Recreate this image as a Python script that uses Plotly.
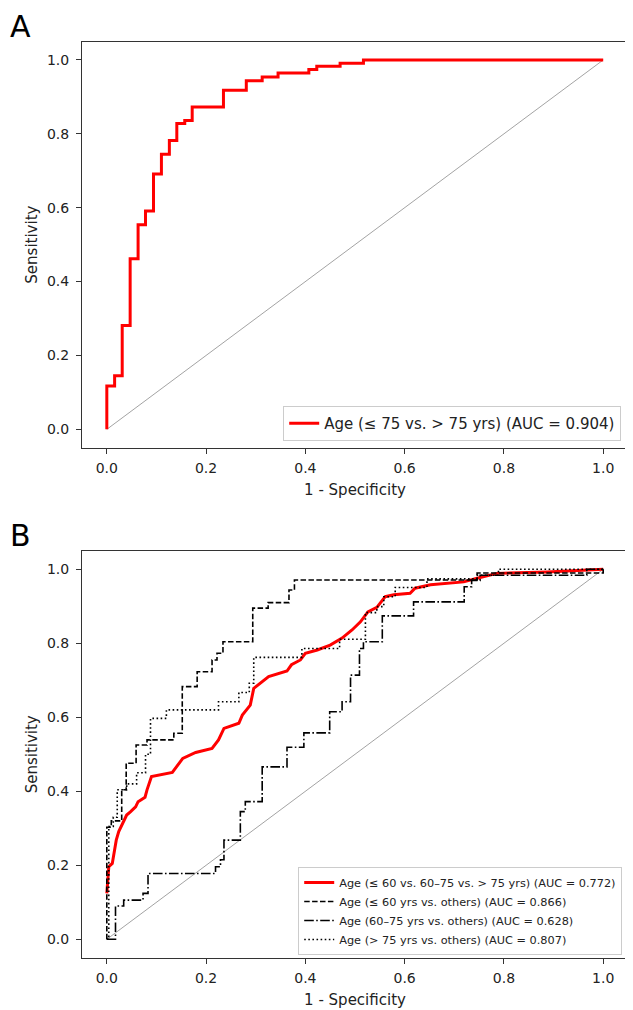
import plotly.graph_objects as go

# ---------------- Data ----------------
# Panel A: Age (<=75 vs >75)
fpr_a = [0, 0, 0.0157, 0.031, 0.047, 0.063, 0.078, 0.094, 0.110, 0.126, 0.141, 0.157,
         0.172, 0.235, 0.281, 0.313, 0.345, 0.407, 0.423, 0.470, 0.517, 1.0]
tpr_a = [0, 0.117, 0.145, 0.281, 0.462, 0.554, 0.591, 0.691, 0.745, 0.782, 0.828, 0.836,
         0.873, 0.918, 0.944, 0.954, 0.965, 0.974, 0.983, 0.991, 1.0, 1.0]

# Panel B: three-level age (smooth red curve)
fpr_b3 = [0, 0.004, 0.011, 0.014, 0.019, 0.024, 0.031, 0.040, 0.048, 0.058, 0.063, 0.077,
          0.081, 0.090, 0.132, 0.153, 0.179, 0.212, 0.225, 0.236, 0.266, 0.273, 0.289,
          0.296, 0.326, 0.350, 0.363, 0.372, 0.390, 0.400, 0.424, 0.450, 0.474, 0.494,
          0.511, 0.526, 0.544, 0.561, 0.578, 0.611, 0.621, 0.652, 0.719, 0.746, 0.786,
          0.887, 1.0]
tpr_b3 = [0.124, 0.196, 0.205, 0.232, 0.268, 0.291, 0.309, 0.336, 0.345, 0.358, 0.372, 0.384,
          0.404, 0.440, 0.451, 0.489, 0.505, 0.516, 0.539, 0.570, 0.584, 0.606, 0.633,
          0.678, 0.710, 0.719, 0.725, 0.742, 0.755, 0.773, 0.782, 0.795, 0.814, 0.836,
          0.858, 0.885, 0.897, 0.926, 0.931, 0.935, 0.949, 0.958, 0.966, 0.976, 0.989,
          0.993, 1.0]

# <=60 yrs vs others (dashed)
fpr_le60 = [0, 0, 0.009, 0.030, 0.039, 0.059, 0.081, 0.135, 0.152, 0.182, 0.212, 0.222,
            0.234, 0.294, 0.325, 0.367, 0.378, 0.746, 1.0]
tpr_le60 = [0, 0.303, 0.32, 0.404, 0.476, 0.525, 0.539, 0.557, 0.683, 0.723, 0.755, 0.773,
            0.804, 0.895, 0.910, 0.944, 0.971, 0.99, 1.0]

# 60-75 yrs vs others (dash-dot)
fpr_mid = [0, 0.0175, 0.034, 0.073, 0.083, 0.219, 0.229, 0.236, 0.269, 0.279, 0.313, 0.363,
           0.397, 0.449, 0.474, 0.491, 0.509, 0.517, 0.555, 0.618, 0.720, 0.735, 0.752,
           0.967, 1.0]
tpr_mid = [0, 0.090, 0.106, 0.124, 0.178, 0.196, 0.215, 0.268, 0.345, 0.372, 0.466, 0.519,
           0.558, 0.615, 0.642, 0.714, 0.786, 0.804, 0.874, 0.912, 0.953, 0.970, 0.984,
           1.0, 1.0]

# >75 yrs vs others (dotted)
fpr_gt75 = [0, 0.004, 0.013, 0.021, 0.040, 0.060, 0.078, 0.088, 0.120, 0.225, 0.266, 0.287,
            0.296, 0.393, 0.469, 0.521, 0.544, 0.558, 0.581, 0.645, 0.746, 0.789, 1.0]
tpr_gt75 = [0, 0.305, 0.33, 0.404, 0.42, 0.45, 0.50, 0.597, 0.62, 0.642, 0.667, 0.692,
            0.762, 0.786, 0.811, 0.883, 0.899, 0.926, 0.951, 0.974, 0.984, 1.0, 1.0]

diag = [0, 1]
ticks = [0.0, 0.2, 0.4, 0.6, 0.8, 1.0]
tick_labels = ["0.0", "0.2", "0.4", "0.6", "0.8", "1.0"]

name_a = "Age (≤ 75 vs. > 75 yrs) (AUC = 0.904)"
names_b = ["Age (≤ 60 vs. 60–75 vs. > 75 yrs) (AUC = 0.772)",
           "Age (≤ 60 yrs vs. others) (AUC = 0.866)",
           "Age (60–75 yrs vs. others) (AUC = 0.628)",
           "Age (> 75 yrs vs. others) (AUC = 0.807)"]

FONT = "DejaVu Sans"
OFF = 8                      # page body margin offset
W, H = 633 - OFF, 1010 - OFF

fig = go.Figure()

# Panel A
fig.add_trace(go.Scatter(x=diag, y=diag, mode="lines", line=dict(color="#8c8c8c", width=0.8),
                         showlegend=False, hoverinfo="skip", xaxis="x", yaxis="y"))
fig.add_trace(go.Scatter(x=fpr_a, y=tpr_a, mode="lines", name=name_a,
                         line=dict(color="red", width=3, shape="hv"),
                         xaxis="x", yaxis="y", legend="legend"))

# Panel B
fig.add_trace(go.Scatter(x=diag, y=diag, mode="lines", line=dict(color="#8c8c8c", width=0.8),
                         showlegend=False, hoverinfo="skip", xaxis="x2", yaxis="y2"))
fig.add_trace(go.Scatter(x=fpr_b3, y=tpr_b3, mode="lines", name=names_b[0],
                         line=dict(color="red", width=3),
                         xaxis="x2", yaxis="y2", legend="legend2"))
fig.add_trace(go.Scatter(x=fpr_le60, y=tpr_le60, mode="lines", name=names_b[1],
                         line=dict(color="black", width=1.6, shape="hv", dash="5.5px,2.4px"),
                         xaxis="x2", yaxis="y2", legend="legend2"))
fig.add_trace(go.Scatter(x=fpr_mid, y=tpr_mid, mode="lines", name=names_b[2],
                         line=dict(color="black", width=1.6, shape="hv",
                                   dash="9.6px,2.4px,1.6px,2.4px"),
                         xaxis="x2", yaxis="y2", legend="legend2"))
fig.add_trace(go.Scatter(x=fpr_gt75, y=tpr_gt75, mode="lines", name=names_b[3],
                         line=dict(color="black", width=1.6, shape="hv", dash="1.6px,2.5px"),
                         xaxis="x2", yaxis="y2", legend="legend2"))

ML = 81.5 - OFF
MR = W - (627.8 - OFF)
PW = W - ML - MR
dom_a = [(H - (447.8 - OFF)) / H, (H - (41.5 - OFF)) / H]
dom_b = [(H - (957.8 - OFF)) / H, (H - (550.8 - OFF)) / H]

axis_common = dict(range=[-0.05, 1.05], tickvals=ticks, ticktext=tick_labels,
                   showgrid=False, zeroline=False, showline=True, linecolor="#333",
                   linewidth=1, mirror=True, ticks="outside", ticklen=5, tickwidth=1,
                   tickcolor="#333", tickfont=dict(family=FONT, size=14, color="#222"))
xt = dict(ticklabelstandoff=2)
yt = dict(ticklabelstandoff=4)

fig.update_layout(
    width=W, height=H,
    margin=dict(l=ML, r=MR, t=0, b=0, autoexpand=False),
    paper_bgcolor="white", plot_bgcolor="white",
    font=dict(family=FONT, color="#222"),
    xaxis=dict(**axis_common, **xt, domain=[0, 1], anchor="y",
               title=dict(text="1 - Specificity", font=dict(family=FONT, size=15), standoff=9)),
    yaxis=dict(**axis_common, **yt, domain=dom_a, anchor="x",
               title=dict(text="Sensitivity", font=dict(family=FONT, size=15), standoff=5)),
    xaxis2=dict(**axis_common, **xt, domain=[0, 1], anchor="y2",
                title=dict(text="1 - Specificity", font=dict(family=FONT, size=15), standoff=9)),
    yaxis2=dict(**axis_common, **yt, domain=dom_b, anchor="x2",
                title=dict(text="Sensitivity", font=dict(family=FONT, size=15), standoff=5)),
    legend=dict(x=(621 - OFF - ML) / PW, y=(H - (441 - OFF)) / H,
                xanchor="right", yanchor="bottom",
                bgcolor="rgba(255,255,255,0.85)", bordercolor="#cccccc", borderwidth=1,
                font=dict(family=FONT, size=15, color="#222")),
    legend2=dict(x=(622 - OFF - ML) / PW, y=(H - (955 - OFF)) / H,
                 xanchor="right", yanchor="bottom",
                 bgcolor="rgba(255,255,255,0.85)", bordercolor="#cccccc", borderwidth=1,
                 font=dict(family=FONT, size=11.3, color="#222"), tracegroupgap=0),
    annotations=[
        dict(text="A", xref="paper", yref="paper", x=-ML / PW,
             y=1.0, xanchor="left", yanchor="top", showarrow=False, borderpad=0,
             font=dict(family=FONT, size=30, color="black")),
        dict(text="B", xref="paper", yref="paper", x=-ML / PW,
             y=(H - (509.3)) / H, xanchor="left", yanchor="top", showarrow=False, borderpad=0,
             font=dict(family=FONT, size=30, color="black")),
    ],
)

fig.write_html("out.html")
